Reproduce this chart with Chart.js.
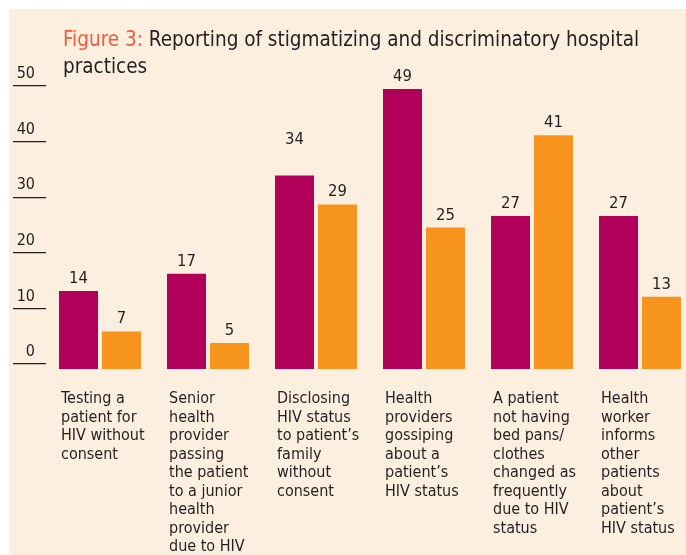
<!DOCTYPE html>
<html>
<head>
<meta charset="utf-8">
<script src="https://cdn.jsdelivr.net/npm/chart.js@4"></script>
<style>
  html, body { margin: 0; padding: 0; background: #ffffff; overflow: hidden; width: 686px; height: 555px; }
  #panel { position: absolute; left: 9px; top: 9px; width: 700px; height: 600px; background: #fdefe0; }
  #chart { position: absolute; left: 0; top: 0; }
  #title {
    position: absolute; left: 63px; top: 26px; width: 620px;
    font-family: 'DejaVu Sans Condensed', 'Liberation Sans Narrow', sans-serif;
    font-size: 20.5px; line-height: 27px; color: #231f20;
  }
  #title span { color: #f15a3a; }
</style>
</head>
<body>
<div id="panel"></div>
<canvas id="chart" width="700" height="580"></canvas>
<div id="title"><span>Figure 3:</span> Reporting of stigmatizing and discriminatory hospital practices</div>
<script>
const categories = [
  ['Testing a', 'patient for', 'HIV without', 'consent'],
  ['Senior', 'health', 'provider', 'passing', 'the patient', 'to a junior', 'health', 'provider', 'due to HIV'],
  ['Disclosing', 'HIV status', 'to patient\u2019s', 'family', 'without', 'consent'],
  ['Health', 'providers', 'gossiping', 'about a', 'patient\u2019s', 'HIV status'],
  ['A patient', 'not having', 'bed pans/', 'clothes', 'changed as', 'frequently', 'due to HIV', 'status'],
  ['Health', 'worker', 'informs', 'other', 'patients', 'about', 'patient\u2019s', 'HIV status']
];
const seriesA = [14, 17, 34, 49, 27, 27];
const seriesB = [7, 5, 29, 25, 41, 13];
const yTicks = [0, 10, 20, 30, 40, 50];

const FONT = "'DejaVu Sans Condensed', 'Liberation Sans Narrow', sans-serif";
const TEXT = '#231f20';

// numbers above each bar (the "34" sits higher in the original)
const valueLabels = {
  id: 'valueLabels',
  afterDatasetsDraw(chart) {
    const ctx = chart.ctx;
    ctx.save();
    ctx.font = '16.5px ' + FONT;
    ctx.fillStyle = TEXT;
    ctx.textAlign = 'center';
    ctx.textBaseline = 'alphabetic';
    chart.data.datasets.forEach((ds, di) => {
      chart.getDatasetMeta(di).data.forEach((bar, i) => {
        const lift = (di === 0 && i === 2) ? 32 : 8;
        ctx.fillText(String(ds.data[i]), bar.x, bar.y - lift);
      });
    });
    ctx.restore();
  }
};

new Chart(document.getElementById('chart'), {
  type: 'bar',
  data: {
    labels: categories,
    datasets: [
      { label: 'Group 1', data: seriesA, backgroundColor: '#b0005a', yAxisID: 'y' },
      { label: 'Group 2', data: seriesB, backgroundColor: '#f7941d', yAxisID: 'y' }
    ]
  },
  options: {
    responsive: false,
    animation: false,
    categoryPercentage: 0.796,
    barPercentage: 0.907,
    layout: { padding: { top: 60, right: 6, left: 0, bottom: 0 } },
    plugins: {
      legend: { display: false },
      tooltip: { enabled: false }
    },
    scales: {
      x: {
        grid: { display: false },
        border: { display: false },
        afterFit(scale) {
          scale.height = 580 - 369;
          scale.paddingLeft = 0;
          scale.paddingRight = 0;
        },
        ticks: {
          autoSkip: false,
          maxRotation: 0,
          align: 'start',
          labelOffset: -39,
          padding: 13,
          color: TEXT,
          font: { family: FONT, size: 16, lineHeight: 1.156 }
        }
      },
      // bars sit slightly below the drawn zero line in the original
      y: {
        display: false,
        min: 0.485,
        max: 54.03
      },
      y2: {
        position: 'left',
        min: -0.9,
        max: 54.68,
        afterBuildTicks(scale) { scale.ticks = yTicks.map(v => ({ value: v })); },
        afterFit(scale) {
          scale.width = 46;
          scale.paddingTop = 0;
          scale.paddingBottom = 0;
        },
        border: { display: false },
        grid: {
          drawOnChartArea: false,
          drawTicks: true,
          tickLength: 33,
          color: TEXT,
          lineWidth: 1.3
        },
        ticks: {
          padding: -22,
          labelOffset: -12,
          color: TEXT,
          font: { family: FONT, size: 16 }
        }
      }
    }
  },
  plugins: [valueLabels]
});
</script>
</body>
</html>
